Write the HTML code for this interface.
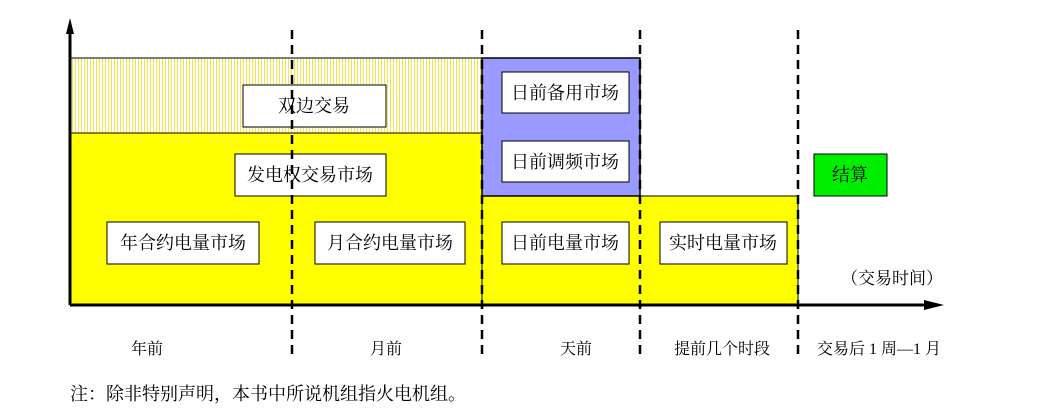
<!DOCTYPE html>
<html><head><meta charset="utf-8"><style>
body{margin:0;background:#fff}
text{font-family:"Liberation Serif","Noto Serif CJK SC",serif;fill:#000}
</style></head><body>
<svg width="1043" height="414" viewBox="0 0 1043 414" xmlns="http://www.w3.org/2000/svg">
<defs>
<pattern id="h" width="3" height="4" patternUnits="userSpaceOnUse">
<rect width="3" height="4" fill="#fff"/><rect width="1" height="4" fill="#f4e64a"/>
</pattern>
</defs>
<rect x="70" y="58" width="412" height="75" fill="url(#h)" stroke="#000" stroke-width="1"/>
<rect x="70" y="133" width="412" height="172" fill="#ffff00"/>
<line x1="70" y1="133" x2="482" y2="133" stroke="#000" stroke-width="1"/>
<rect x="482" y="196" width="316" height="109" fill="#ffff00" stroke="#000" stroke-width="1"/>
<rect x="482" y="58" width="158" height="138" fill="#9999ff" stroke="#000" stroke-width="1.5"/>
<g fill="#fff" stroke="#000" stroke-width="1">
<rect x="243" y="85" width="143" height="42"/>
<rect x="235" y="154" width="151" height="42"/>
<rect x="107" y="222" width="152" height="42"/>
<rect x="315" y="222" width="150" height="42"/>
<rect x="502" y="72" width="127" height="41"/>
<rect x="502" y="141" width="127" height="41"/>
<rect x="502" y="222" width="127" height="42"/>
<rect x="660" y="222" width="127" height="42"/>
</g>
<rect x="814" y="154" width="73" height="42" fill="#00ee00" stroke="#000" stroke-width="1"/>
<g stroke="#000" stroke-width="2.5" stroke-dasharray="9,6">
<line x1="292" y1="30" x2="292" y2="360"/>
<line x1="482" y1="30" x2="482" y2="360"/>
<line x1="640" y1="30" x2="640" y2="360"/>
<line x1="798" y1="30" x2="798" y2="360"/>
</g>
<line x1="70" y1="305" x2="70" y2="24" stroke="#000" stroke-width="3"/>
<polygon points="70,18 66,34 74,34" fill="#000"/>
<line x1="70" y1="305" x2="930" y2="305" stroke="#000" stroke-width="3"/>
<polygon points="944,305 924,300 924,310" fill="#000"/>
<g font-size="18" text-anchor="middle">
<text x="314" y="112">双边交易</text>
<text x="310" y="181">发电权交易市场</text>
<text x="183" y="249">年合约电量市场</text>
<text x="390" y="249">月合约电量市场</text>
<text x="565" y="99">日前备用市场</text>
<text x="565" y="168">日前调频市场</text>
<text x="565" y="249">日前电量市场</text>
<text x="723" y="249">实时电量市场</text>
<text x="850" y="181">结算</text>
<text x="892" y="284" font-size="17">（交易时间）</text>
</g>
<g font-size="16" text-anchor="middle">
<text x="147" y="354">年前</text>
<text x="386" y="354">月前</text>
<text x="576" y="354">天前</text>
<text x="722" y="354">提前几个时段</text>
<text x="879" y="354">交易后 1 周—1 月</text>
</g>
<text x="70" y="400" font-size="18">注：除非特别声明，本书中所说机组指火电机组。</text>
</svg>
</body></html>
